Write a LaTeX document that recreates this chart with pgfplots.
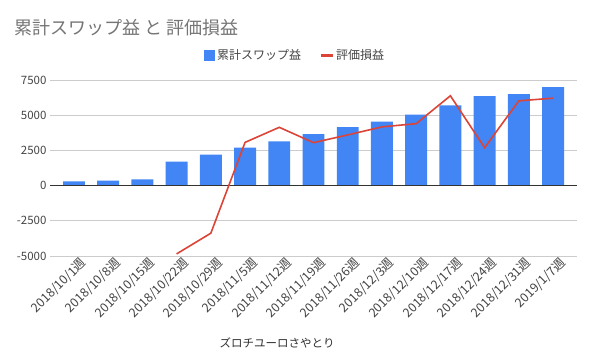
\documentclass[border=0pt]{standalone}
\usepackage{fontspec}
\setmainfont{Noto Sans CJK JP}
\usepackage{pgfplots}
\pgfplotsset{compat=1.18}
\usepackage{pgfplotstable}
\definecolor{gblue}{HTML}{4285F4}
\definecolor{gred}{HTML}{DB4437}
\definecolor{ggrid}{HTML}{CCCCCC}
\definecolor{gtext}{HTML}{444444}
\definecolor{gtitle}{HTML}{757575}
\definecolor{gzero}{HTML}{333333}

\pgfplotstableread{
x swap
0 300
1 350
2 450
3 1700
4 2200
5 2700
6 3150
7 3650
8 4150
9 4550
10 5050
11 5700
12 6350
13 6500
14 7000
}\swapdata

\pgfplotstableread{
x val
3 -4850
4 -3380
5 3070
6 4140
7 3050
8 3600
9 4170
10 4400
11 6380
12 2690
13 6020
14 6210
}\hyoukadata

\begin{document}
\begin{tikzpicture}
\useasboundingbox (0,0) rectangle (589pt,364pt);
\node[anchor=west, text=gtitle, font=\fontsize{18}{20}\selectfont, inner sep=0pt] at (14pt,336pt) {累計スワップ益 と 評価損益};
\begin{axis}[
  at={(50pt,108pt)}, anchor=south west,
  scale only axis, width=527pt, height=176pt,
  xmin=-0.7, xmax=14.7, ymin=-5000, ymax=7500,
  ytick={-5000,-2500,0,2500,5000,7500},
  xtick={0,...,14},
  xticklabels={2018/10/1週,2018/10/8週,2018/10/15週,2018/10/22週,2018/10/29週,2018/11/5週,2018/11/12週,2018/11/19週,2018/11/26週,2018/12/3週,2018/12/10週,2018/12/17週,2018/12/24週,2018/12/31週,2019/1/7週},
  x tick label style={rotate=45, anchor=north east, font=\fontsize{12.5}{13}\selectfont, text=gtext, inner sep=1pt, xshift=5pt, yshift=-3pt},
  y tick label style={font=\fontsize{11.5}{12}\selectfont, text=gtext, /pgf/number format/assume math mode=true},
  yticklabel={\pgfmathprintnumber[fixed,1000 sep={}]{\tick}},
  scaled y ticks=false,
  axis line style={draw=none},
  major tick length=0pt,
  ymajorgrids, grid style={ggrid, line width=0.8pt},
  clip=false,
  legend style={at={(0.465,1.142)}, anchor=center, draw=none, fill=none,
    font=\fontsize{12}{13}\selectfont, text=gtext, legend columns=2,
    /tikz/every even column/.append style={column sep=16pt}},
  legend cell align=left,
]
\addplot[ybar, bar width=0.64, fill=gblue, draw=none, area legend,
  legend image code/.code={\fill[gblue] (0pt,-5.5pt) rectangle (11pt,5.5pt);}] table[x=x,y=swap] {\swapdata};
\addlegendentry{累計スワップ益}
\draw[gzero, line width=1pt] (axis cs:-0.7,0) -- (axis cs:14.7,0);
\addplot[gred, line width=1.6pt, mark=none,
  legend image code/.code={\draw[gred, line width=3pt] (0pt,0pt) -- (12pt,0pt);}] table[x=x,y=val] {\hyoukadata};
\addlegendentry{評価損益}
\end{axis}
\node[text=gtext!70!black, font=\fontsize{11.5}{12}\selectfont] at (277pt,21pt) {ズロチユーロさやとり};
\end{tikzpicture}
\end{document}
